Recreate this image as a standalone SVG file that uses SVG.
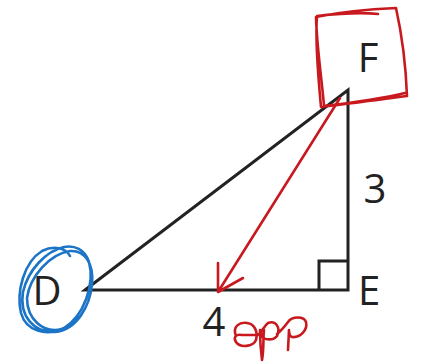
<svg xmlns="http://www.w3.org/2000/svg" width="423" height="364" viewBox="0 0 423 364">
<style>
.edge{fill:none;stroke:#222;stroke-width:3;stroke-linejoin:miter}
.lbl{font-family:"Open Sans","Liberation Sans",sans-serif;font-size:40px;fill:#222;text-anchor:middle}
.red{fill:none;stroke:#c8191f;stroke-width:2.6;stroke-linecap:round;stroke-linejoin:round}
.blue{fill:none;stroke:#1b74c5;stroke-width:2.6;stroke-linecap:round;stroke-linejoin:round}
</style>
<rect width="423" height="364" fill="#fff"/>
<g id="connectors">
<path class="edge" d="M85 290 L348 90 L348 290 Z"/>
<path class="edge" d="M319 290 L319 261 L348 261" stroke-width="2.5"/>
<path class="red" d="M340 98 L218 292 M218 263 L218 292 L243 278"/>
</g>
<g id="node-D">
<text class="lbl" x="47" y="305">D</text>
<path class="blue" d="M70 256 C66 248 54 245 42 251 C24 262 16 292 21 313 C26 331 46 337 64 328 C84 316 95 284 89 262 C85 249 74 245 64 247 C46 251 28 270 23 292 C19 316 34 333 55 332 C76 330 90 307 92 284 C94 264 85 250 70 251 C50 254 30 276 27 298 C27 319 43 334 62 329"/>
</g>
<g id="node-E"><text class="lbl" x="369" y="305">E</text></g>
<g id="node-F">
<text class="lbl" x="368" y="72">F</text>
<path class="red" d="M378 14 C360 12 335 14 317 16 C315 40 318 75 321 107 C345 104 378 100 407 96 C406 70 402 35 396 8 C370 9 340 12 316 17 C317 50 322 80 324 106 C350 103 380 99 405 93"/>
</g>
<g id="label-3"><text class="lbl" x="375" y="203">3</text></g>
<g id="label-4"><text class="lbl" x="214" y="336">4</text></g>
<g id="note-opp">
<path class="red" d="M236 336 C232 326 240 322 247 323 C255 324 258 332 256 340 C253 347 240 348 236 342 C233 337 236 334 242 335 L258 335 C262 332 264 326 268 323 C276 320 281 328 277 336 C273 341 264 340 262 336 L260 330 C260 342 261 352 262 360 C264 350 263 338 264 330 M277 334 C282 330 285 326 288 322 C292 316 304 316 306 322 C308 330 300 338 292 337 C289 336 289 332 289 330 L288 350"/>
</g>
</svg>
